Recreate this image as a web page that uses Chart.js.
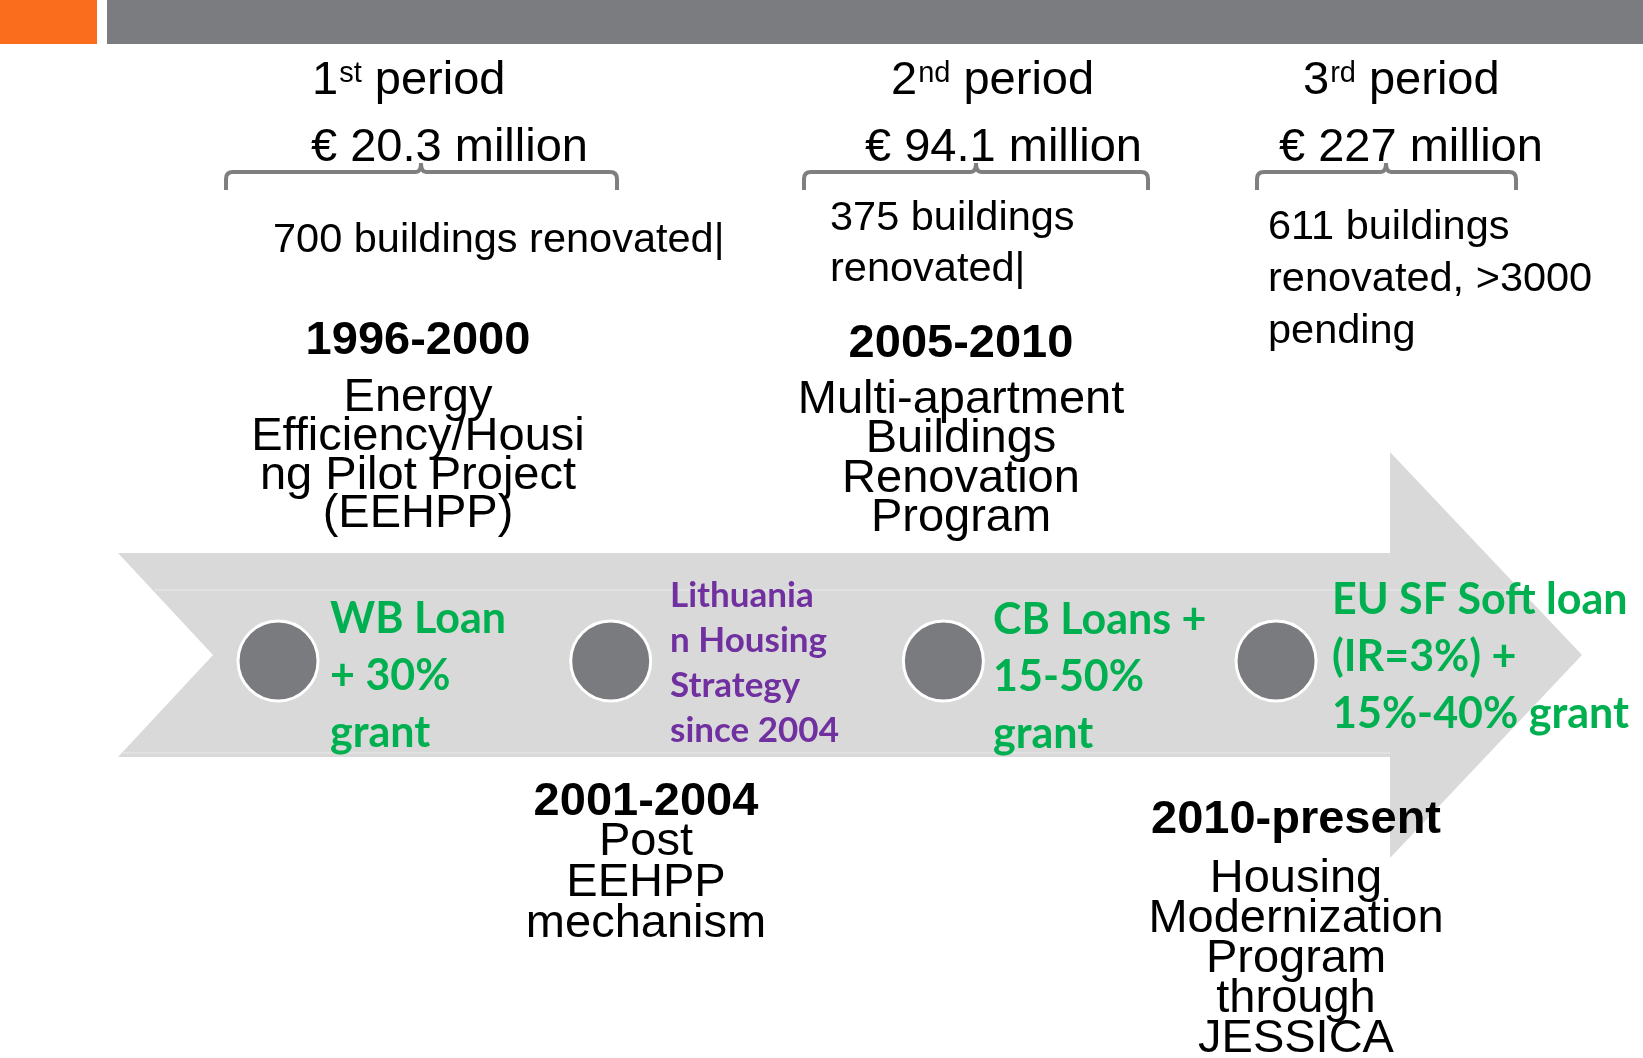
<!DOCTYPE html>
<html lang="en">
<head>
<meta charset="UTF-8">
<title>Lithuania housing renovation timeline</title>
<script src="https://cdn.jsdelivr.net/npm/chart.js"></script>
<style>
  body { margin: 0; background: #fff; }
  .wrap { width: 1643px; height: 1058px; }
</style>
</head>
<body>
<div class="wrap"><canvas id="timeline" width="1643" height="1058"></canvas></div>
<script>
// stages along the arrow
const stages = ['1996-2000', '2001-2004', '2005-2010', '2010-present'];
const stageIndex = [0, 1, 2, 3];
const stageLevel = [0, 0, 0, 0];
const programmes = [
  ['Energy', 'Efficiency/Housi', 'ng Pilot Project', '(EEHPP)'],
  ['Post', 'EEHPP', 'mechanism'],
  ['Multi-apartment', 'Buildings', 'Renovation', 'Program'],
  ['Housing', 'Modernization', 'Program', 'through', 'JESSICA']
];
const financing = [
  ['WB Loan', '+ 30%', 'grant'],
  ['Lithuania', 'n Housing', 'Strategy', 'since 2004'],
  ['CB Loans +', '15-50%', 'grant'],
  ['EU SF Soft loan', '(IR=3%) +', '15%-40% grant']
];

// funding periods
const periodNumber = ['1', '2', '3'];
const periodSuffix = ['st', 'nd', 'rd'];
const periodFunding = [20.3, 94.1, 227];   // € million
const periodBuildings = [
  ['700 buildings renovated|'],
  ['375 buildings', 'renovated|'],
  ['611 buildings', 'renovated, >3000', 'pending']
];

const W = 1643, H = 1058;
const sans = '"Liberation Sans", Arial, sans-serif';
const humanist = 'Lato, "Open Sans", sans-serif';

// layout of the text blocks (pixels)
const blockX = [418, 646, 961, 1296];
const yearY = [354, 815, 357, 833];
const progY = [411, 855, 413, 892];
const progStep = [38.8, 41, 39.3, 40];
const finX = [330, 670, 993, 1332];
const finY = [633, 607, 634, 614];
const finStep = [57, 45, 57, 57];
const finSize = [43, 35, 43, 43];
const finColor = ['#00B050', '#7030A0', '#00B050', '#00B050'];
const headX = [312, 891, 1303];
const fundX = [311, 865, 1279];
const braces = [[226, 617, 421], [804, 1148, 976], [1257, 1516, 1386]];
const noteX = [273, 830, 1268];
const noteY = [252, 230, 239];
const noteStep = [0, 51, 52];

function brace(ctx, x0, x1, tip) {
  const y = 172, end = 190;
  ctx.beginPath();
  ctx.moveTo(x0, end);
  ctx.lineTo(x0, y + 7);
  ctx.quadraticCurveTo(x0, y, x0 + 7, y);
  ctx.lineTo(tip - 5, y);
  ctx.quadraticCurveTo(tip, y, tip, y - 9);
  ctx.quadraticCurveTo(tip, y, tip + 5, y);
  ctx.lineTo(x1 - 7, y);
  ctx.quadraticCurveTo(x1, y, x1, y + 7);
  ctx.lineTo(x1, end);
  ctx.stroke();
}

const decor = {
  id: 'decor',
  beforeDatasetsDraw(chart) {
    const ctx = chart.ctx;
    ctx.save();
    ctx.fillStyle = '#F96D1D';
    ctx.fillRect(0, 0, 97, 44);
    ctx.fillStyle = '#7B7C80';
    ctx.fillRect(107, 0, W - 107, 44);

    // big arrow
    ctx.fillStyle = '#D9D9D9';
    ctx.beginPath();
    ctx.moveTo(118, 553);
    ctx.lineTo(1390, 553);
    ctx.lineTo(1390, 452);
    ctx.lineTo(1582, 655);
    ctx.lineTo(1390, 858);
    ctx.lineTo(1390, 757);
    ctx.lineTo(118, 757);
    ctx.lineTo(213, 655);
    ctx.closePath();
    ctx.fill();
    ctx.strokeStyle = '#E3E3E3';
    ctx.lineWidth = 1.5;
    ctx.beginPath();
    ctx.moveTo(155, 590); ctx.lineTo(1518, 590);
    ctx.moveTo(123, 753); ctx.lineTo(1390, 753);
    ctx.stroke();

    ctx.strokeStyle = '#7F7F7F';
    ctx.lineWidth = 4;
    braces.forEach(b => brace(ctx, b[0], b[1], b[2]));
    ctx.restore();
  },
  afterDatasetsDraw(chart) {
    const ctx = chart.ctx;
    ctx.save();
    ctx.fillStyle = '#000';
    ctx.textBaseline = 'alphabetic';

    // period headings
    periodNumber.forEach((n, i) => {
      let x = headX[i];
      ctx.textAlign = 'left';
      ctx.font = `47px ${sans}`;
      ctx.fillText(n, x, 94);
      x += ctx.measureText(n).width + 1;
      ctx.font = `29px ${sans}`;
      ctx.fillText(periodSuffix[i], x, 82);
      x += ctx.measureText(periodSuffix[i]).width;
      ctx.font = `47px ${sans}`;
      ctx.fillText(' period', x, 94);
      ctx.fillText('\u20AC ' + periodFunding[i] + ' million', fundX[i], 161);
      ctx.font = `41.5px ${sans}`;
      periodBuildings[i].forEach((t, k) => ctx.fillText(t, noteX[i], noteY[i] + k * noteStep[i]));
    });

    // years and programme names
    ctx.textAlign = 'center';
    stages.forEach((s, i) => {
      ctx.font = `bold 47px ${sans}`;
      ctx.fillText(s, blockX[i], yearY[i]);
      ctx.font = `47px ${sans}`;
      programmes[i].forEach((t, k) => ctx.fillText(t, blockX[i], progY[i] + k * progStep[i]));
    });

    // financing notes on the arrow
    ctx.textAlign = 'left';
    financing.forEach((lines, i) => {
      ctx.fillStyle = finColor[i];
      ctx.font = `bold ${finSize[i]}px ${humanist}`;
      lines.forEach((t, k) => ctx.fillText(t, finX[i], finY[i] + k * finStep[i]));
    });
    ctx.restore();
  }
};

new Chart(document.getElementById('timeline'), {
  type: 'scatter',
  data: {
    labels: stages,
    datasets: [{
      data: stageIndex.map((v, i) => ({ x: v, y: stageLevel[i] })),
      backgroundColor: '#7A7B7F',
      borderColor: '#FFFFFF',
      borderWidth: 3,
      pointRadius: 40,
      pointHoverRadius: 40
    }]
  },
  options: {
    responsive: false,
    animation: false,
    devicePixelRatio: 1,
    layout: { padding: 0, autoPadding: false },
    scales: {
      x: { type: 'linear', min: -0.8357, max: 4.103, display: false },
      y: { type: 'linear', min: -397, max: 661, display: false }
    },
    plugins: {
      legend: { display: false },
      tooltip: { enabled: false }
    },
    events: []
  },
  plugins: [decor]
});
</script>
</body>
</html>
